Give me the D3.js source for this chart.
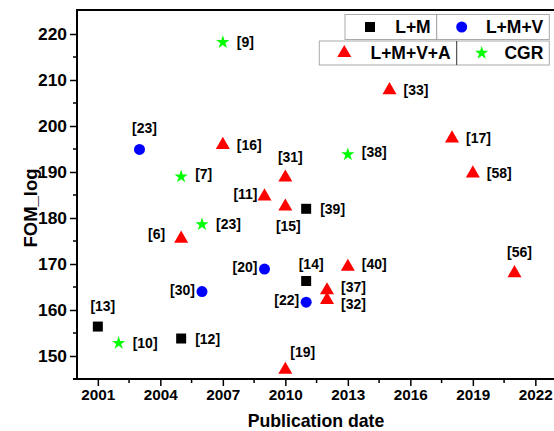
<!DOCTYPE html>
<html>
<head>
<meta charset="utf-8">
<script src="https://cdn.jsdelivr.net/npm/d3@7"></script>
<style>
  html, body { margin: 0; padding: 0; background: #fff; }
  svg { display: block; font-family: "Liberation Sans", Arial, Helvetica, sans-serif; font-weight: bold; }
</style>
</head>
<body>
<svg id="chart" width="554" height="431"></svg>
<script>
// ---------------- data ----------------
const seriesNames = ["L+M", "L+M+V", "L+M+V+A", "CGR"];

const lmYears  = [2001, 2005, 2011, 2011];
const lmValues = [156.4, 153.8, 166.3, 182.0];
const lmRefs   = ["[13]", "[12]", "[14]", "[39]"];
const lmPlace  = ["a", "r", "an", "r"];

const lmvYears  = [2003, 2006, 2009, 2011];
const lmvValues = [194.9, 164.0, 168.9, 161.7];
const lmvRefs   = ["[23]", "[30]", "[20]", "[22]"];
const lmvPlace  = ["a", "l", "l", "l"];

const lmvaYears  = [2005, 2007, 2009, 2010, 2010, 2010, 2012, 2012, 2013, 2015, 2018, 2019, 2021];
const lmvaValues = [175.5, 195.9, 184.7, 188.8, 182.5, 147.0, 164.3, 162.2, 169.4, 207.8, 197.3, 189.7, 168.0];
const lmvaRefs   = ["[6]", "[16]", "[11]", "[31]", "[15]", "[19]", "[37]", "[32]", "[40]", "[33]", "[17]", "[58]", "[56]"];
const lmvaPlace  = ["lf", "r", "l", "a", "b", "ar", "ru", "rd", "ru", "r", "r", "r", "a"];

const cgrYears  = [2002, 2005, 2006, 2007, 2013];
const cgrValues = [152.8, 189.0, 178.6, 218.2, 193.8];
const cgrRefs   = ["[10]", "[7]", "[23]", "[9]", "[38]"];
const cgrPlace  = ["r", "ru", "r", "r", "ru"];

const xTickValues = [2001, 2004, 2007, 2010, 2013, 2016, 2019, 2022];
const yTickValues = [150, 160, 170, 180, 190, 200, 210, 220];

const xTitle = "Publication date";
const yTitle = "FOM_log";

// ---------------- layout ----------------
const svg = d3.select("#chart");
const pLeft = 77, pTop = 11, pBottom = 379;
const x = d3.scaleLinear().domain([2000, 2024]).range([pLeft, 577]);
const y = d3.scaleLinear().domain([145, 225]).range([pBottom, pTop]);

const series = [
  { name: seriesNames[0], years: lmYears,   values: lmValues,   refs: lmRefs,   place: lmPlace,   symbol: d3.symbolSquare,   size: 100, color: "#000000" },
  { name: seriesNames[1], years: lmvYears,  values: lmvValues,  refs: lmvRefs,  place: lmvPlace,  symbol: d3.symbolCircle,   size: 95,  color: "#0000ff" },
  { name: seriesNames[2], years: lmvaYears, values: lmvaValues, refs: lmvaRefs, place: lmvaPlace, symbol: d3.symbolTriangle, size: 85,  color: "#ff0000" },
  { name: seriesNames[3], years: cgrYears,  values: cgrValues,  refs: cgrRefs,  place: cgrPlace,  symbol: d3.symbolStar,     size: 55,  color: "#00ff00" }
];

// ---------------- axes ----------------
const axisColor = "#000";
const xAxis = d3.axisBottom(x).tickValues(xTickValues).tickFormat(d3.format("d")).tickSize(7).tickSizeOuter(0);
const gx = svg.append("g").attr("transform", `translate(0,${pBottom})`).call(xAxis);
gx.select(".domain").remove();
gx.selectAll(".tick line").attr("stroke", axisColor).attr("stroke-width", 1.5);
gx.selectAll(".tick text").attr("font-size", 15.3).attr("font-family", "Liberation Sans, Arial, sans-serif")
  .attr("font-weight", "bold").attr("fill", "#000").attr("y", 10).attr("dy", "0.71em");
const xMinor = d3.range(2002.5, 2024, 3);
svg.append("g").selectAll("line").data(xMinor).join("line")
  .attr("x1", d => x(d)).attr("x2", d => x(d)).attr("y1", pBottom).attr("y2", pBottom + 4)
  .attr("stroke", axisColor).attr("stroke-width", 1.5);

const yAxis = d3.axisLeft(y).tickValues(yTickValues).tickSize(7).tickSizeOuter(0);
const gy = svg.append("g").attr("transform", `translate(${pLeft},0)`).call(yAxis);
gy.select(".domain").remove();
gy.selectAll(".tick line").attr("stroke", axisColor).attr("stroke-width", 1.5);
gy.selectAll(".tick text").attr("font-size", 17.4).attr("font-family", "Liberation Sans, Arial, sans-serif")
  .attr("font-weight", "bold").attr("fill", "#000").attr("x", -10);
const yMinor = d3.range(155, 220, 10);
svg.append("g").selectAll("line").data(yMinor).join("line")
  .attr("x1", pLeft - 4).attr("x2", pLeft).attr("y1", d => y(d)).attr("y2", d => y(d))
  .attr("stroke", axisColor).attr("stroke-width", 1.5);

// frame lines
svg.append("line").attr("x1", pLeft - 4).attr("x2", 560).attr("y1", pBottom).attr("y2", pBottom).attr("stroke", "#000").attr("stroke-width", 2);
svg.append("line").attr("x1", pLeft).attr("x2", pLeft).attr("y1", pTop - 1).attr("y2", pBottom).attr("stroke", "#000").attr("stroke-width", 2);
svg.append("line").attr("x1", pLeft - 1).attr("x2", 560).attr("y1", pTop - 1).attr("y2", pTop - 1).attr("stroke", "#000").attr("stroke-width", 2);

// axis titles
svg.append("text").attr("x", 316).attr("y", 427).attr("text-anchor", "middle")
  .attr("font-size", 17.7).attr("fill", "#000").text(xTitle);
svg.append("text").attr("transform", `translate(37,208) rotate(-90)`).attr("text-anchor", "middle")
  .attr("font-size", 18.5).attr("fill", "#000").text(yTitle);

// ---------------- points & labels ----------------
const labelOffsets = {
  r:  { dx: 14,  dy: 5,   anchor: "start" },
  ru: { dx: 14,  dy: 2,   anchor: "start" },
  rd: { dx: 14,  dy: 9,   anchor: "start" },
  l:  { dx: -7,  dy: 3,   anchor: "end" },
  lf: { dx: -16, dy: 0,   anchor: "end" },
  a:  { dx: 5,   dy: -16, anchor: "middle" },
  an: { dx: 5,   dy: -12, anchor: "middle" },
  ar: { dx: 5,   dy: -13, anchor: "start" },
  b:  { dx: 3,   dy: 24,  anchor: "middle" }
};

series.forEach(s => {
  const pts = s.years.map((yr, i) => ({ yr, v: s.values[i], ref: s.refs[i], place: s.place[i] }));
  const g = svg.append("g");
  g.selectAll("path").data(pts).join("path")
    .attr("d", d3.symbol().type(s.symbol).size(s.size))
    .attr("transform", d => `translate(${x(d.yr)},${y(d.v)})`)
    .attr("fill", s.color);
  g.selectAll("text").data(pts).join("text")
    .attr("x", d => x(d.yr) + labelOffsets[d.place].dx)
    .attr("y", d => y(d.v) + labelOffsets[d.place].dy)
    .attr("text-anchor", d => labelOffsets[d.place].anchor)
    .attr("font-size", 14).attr("fill", "#000")
    .text(d => d.ref);
});

// ---------------- legend ----------------
const legendRows = [
  { y0: 14.5, h: 25, cells: [{ x0: 345, x1: 436.7, s: 0 }, { x0: 436.7, x1: 549.3, s: 1 }], divider: "#999" },
  { y0: 41,   h: 24, cells: [{ x0: 319.3, x1: 456.7, s: 2 }, { x0: 456.7, x1: 549.3, s: 3 }], divider: "#333" }
];
const lg = svg.append("g");
legendRows.forEach(row => {
  const rx0 = row.cells[0].x0, rx1 = row.cells[row.cells.length - 1].x1;
  lg.append("rect").attr("x", rx0).attr("y", row.y0).attr("width", rx1 - rx0).attr("height", row.h)
    .attr("fill", "#fff").attr("stroke", "#aaa").attr("stroke-width", 1);
  lg.append("line").attr("x1", row.cells[1].x0).attr("x2", row.cells[1].x0)
    .attr("y1", row.y0).attr("y2", row.y0 + row.h).attr("stroke", row.divider).attr("stroke-width", 1);
  row.cells.forEach(c => {
    const s = series[c.s];
    const cy = row.y0 + row.h / 2;
    lg.append("path").attr("d", d3.symbol().type(s.symbol).size(s.size)())
      .attr("transform", `translate(${c.x0 + 25},${cy})`).attr("fill", s.color);
    lg.append("text").attr("x", c.x1 - 6).attr("y", cy + 6.2).attr("text-anchor", "end")
      .attr("font-size", 17.5).attr("fill", "#000").text(s.name);
  });
});
</script>
</body>
</html>
